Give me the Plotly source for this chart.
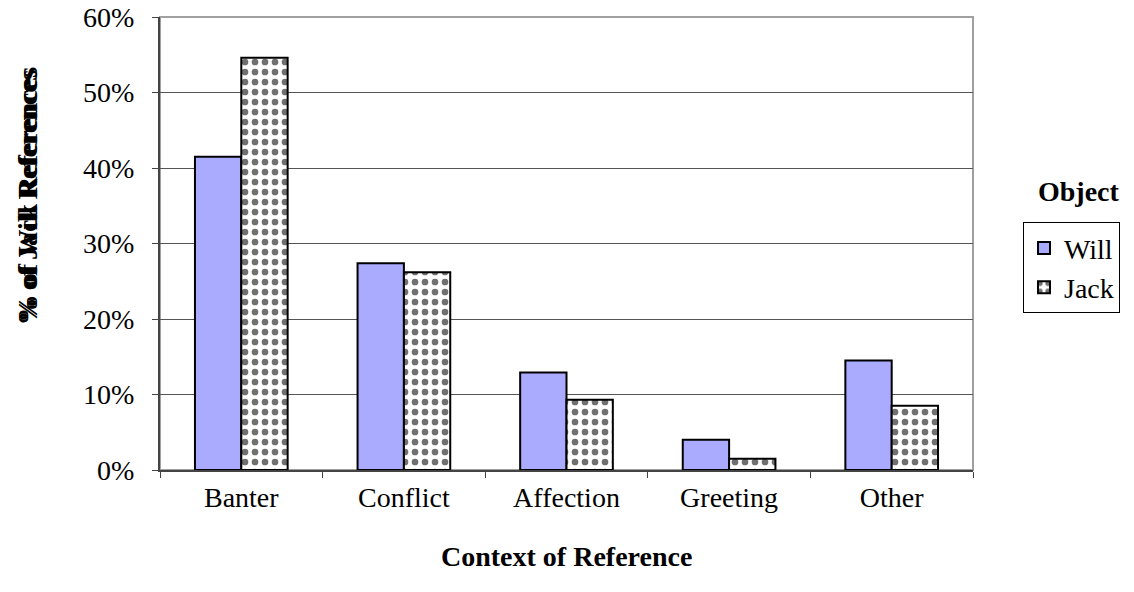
import plotly.graph_objects as go

categories = ["Banter", "Conflict", "Affection", "Greeting", "Other"]
will_values = [41.5, 27.4, 12.9, 4.0, 14.5]
jack_values = [54.6, 26.2, 9.3, 1.5, 8.5]
series_names = ["Will", "Jack"]
y_ticks = [0, 10, 20, 30, 40, 50, 60]
y_tick_labels = [f"{v}%" for v in y_ticks]

FONT = "Liberation Serif, Times New Roman, serif"
FS = 28

fig = go.Figure()
fig.add_trace(go.Bar(
    x=categories, y=will_values, name=series_names[0],
    marker=dict(color="#AAAAFF", line=dict(color="black", width=2)),
))
fig.add_trace(go.Bar(
    x=categories, y=jack_values, name=series_names[1],
    marker=dict(
        color="white",
        line=dict(color="black", width=2),
        pattern=dict(shape=".", fgcolor="#707070", bgcolor="white",
                     size=10, solidity=0.35, fillmode="replace"),
    ),
))

fig.update_layout(
    width=1134, height=592,
    margin=dict(l=160, r=161, t=17, b=122, autoexpand=False),
    paper_bgcolor="white", plot_bgcolor="white",
    barmode="group", bargap=0.43, bargroupgap=0,
    font=dict(family=FONT, size=FS, color="black"),
    showlegend=True,
    legend=dict(
        x=1.0615, y=0.547, xanchor="left", yanchor="top",
        bordercolor="black", borderwidth=1, bgcolor="white",
        font=dict(family=FONT, size=FS, color="black"),
        tracegroupgap=0, itemsizing="constant", itemwidth=30,
    ),
    xaxis=dict(
        showline=True, linecolor="#444", linewidth=1.5,
        ticks="outside", tickson="boundaries", ticklen=6, tickcolor="#444",
        ticklabelstandoff=2,
        tickfont=dict(family=FONT, size=FS), automargin=False,
        showgrid=False,
    ),
    yaxis=dict(
        range=[0, 60], tickvals=y_ticks, ticktext=y_tick_labels,
        showline=True, linecolor="#444", linewidth=2,
        ticks="outside", ticklen=6, tickcolor="#444", ticklabelstandoff=12,
        tickfont=dict(family=FONT, size=FS), automargin=False,
        showgrid=True, gridcolor="#555", gridwidth=1,
        zeroline=False,
    ),
    shapes=[dict(type="rect", xref="paper", yref="paper", x0=0, x1=1, y0=0, y1=1,
                 line=dict(color="#a0a0a0", width=2), layer="below")],
    annotations=[
        dict(text="<b>% of Will References</b>", textangle=-90, xref="paper", yref="paper",
             x=-0.162, y=0.605, xanchor="center", yanchor="middle", showarrow=False,
             font=dict(family=FONT, size=FS)),
        dict(text="<b>% of Jack References</b>", textangle=-90, xref="paper", yref="paper",
             x=-0.162, y=0.605, xanchor="center", yanchor="middle", showarrow=False,
             font=dict(family=FONT, size=FS)),
        dict(text="<b>Context of Reference</b>", xref="paper", yref="paper",
             x=0.5, y=-0.19, xanchor="center", yanchor="middle", showarrow=False,
             font=dict(family=FONT, size=FS)),
        dict(text="<b>Object</b>", xref="paper", yref="paper",
             x=1.13, y=0.614, xanchor="center", yanchor="middle", showarrow=False,
             font=dict(family=FONT, size=FS)),
    ],
)

# remove the browser's default 8px body margin so the figure fills the window
fig.write_html("out.html", config={"displayModeBar": False},
               post_script="document.body.style.margin='0';")
